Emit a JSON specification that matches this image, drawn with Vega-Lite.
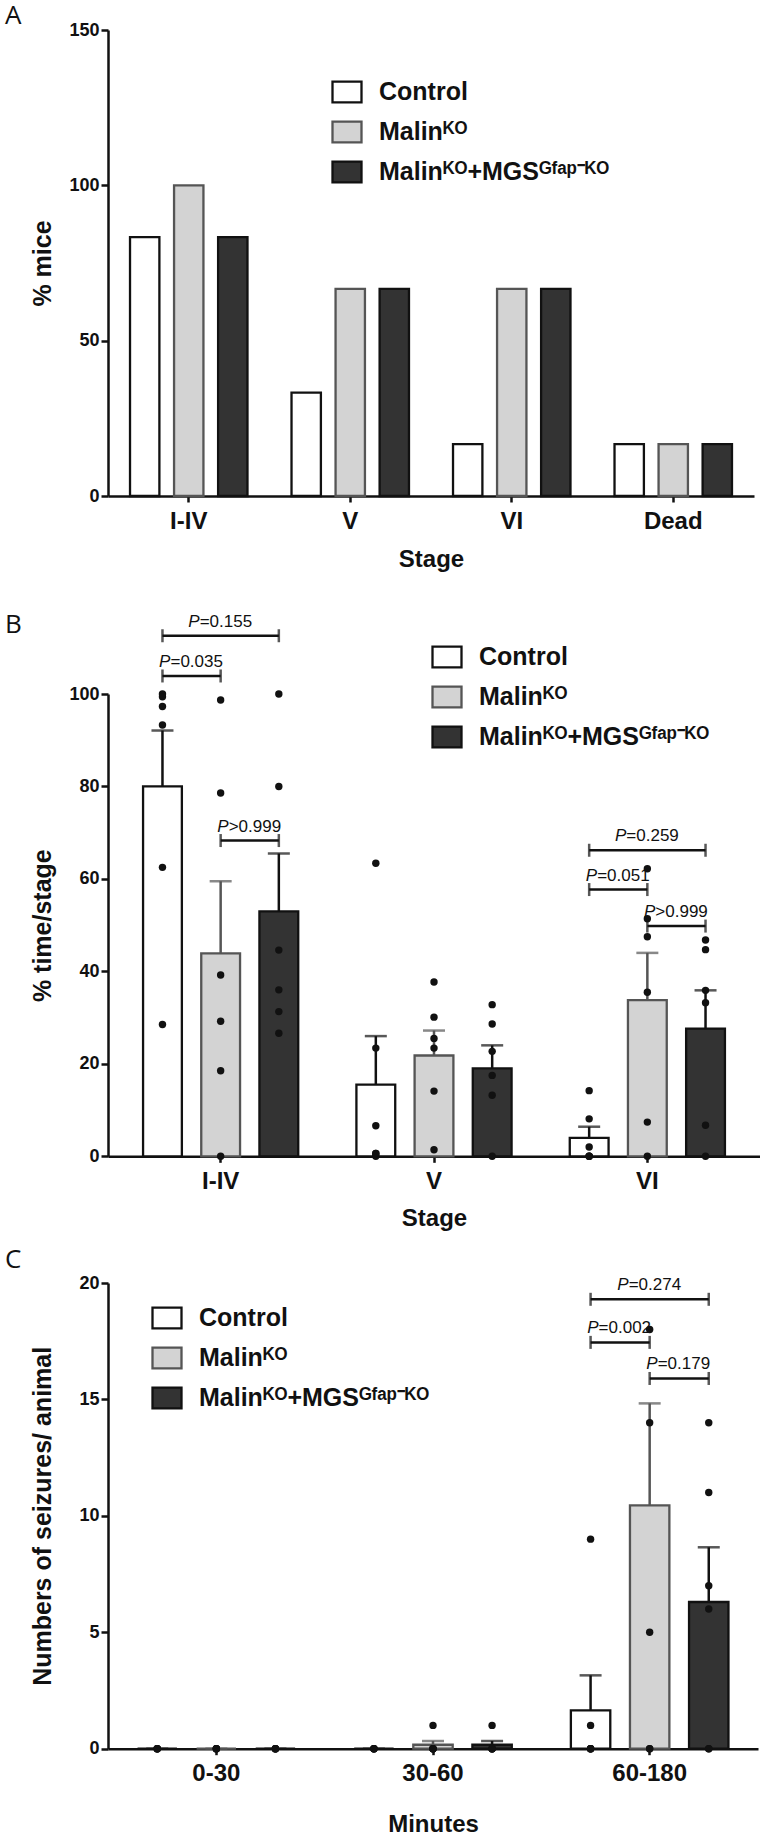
{
  "$schema": "https://vega.github.io/schema/vega-lite/v6.json",
  "background": "white",
  "padding": {"left": 5, "top": 3, "right": 0, "bottom": 0},
  "datasets": {
    "barsA": [
      {"stage": "I-IV", "group": "Control", "pct": 83.3},
      {"stage": "I-IV", "group": "Malinᴷᴼ", "pct": 100},
      {"stage": "I-IV", "group": "Malinᴷᴼ+MGSᴳᶠᵃᵖ⁻ᴷᴼ", "pct": 83.3},
      {"stage": "V", "group": "Control", "pct": 33.3},
      {"stage": "V", "group": "Malinᴷᴼ", "pct": 66.7},
      {"stage": "V", "group": "Malinᴷᴼ+MGSᴳᶠᵃᵖ⁻ᴷᴼ", "pct": 66.7},
      {"stage": "VI", "group": "Control", "pct": 16.7},
      {"stage": "VI", "group": "Malinᴷᴼ", "pct": 66.7},
      {"stage": "VI", "group": "Malinᴷᴼ+MGSᴳᶠᵃᵖ⁻ᴷᴼ", "pct": 66.7},
      {"stage": "Dead", "group": "Control", "pct": 16.7},
      {"stage": "Dead", "group": "Malinᴷᴼ", "pct": 16.7},
      {"stage": "Dead", "group": "Malinᴷᴼ+MGSᴳᶠᵃᵖ⁻ᴷᴼ", "pct": 16.7}
    ],
    "barsB": [
      {"stage": "I-IV", "group": "Control", "mean": 80.0, "upper": 92.1},
      {"stage": "I-IV", "group": "Malinᴷᴼ", "mean": 43.9, "upper": 59.5},
      {"stage": "I-IV", "group": "Malinᴷᴼ+MGSᴳᶠᵃᵖ⁻ᴷᴼ", "mean": 53.0, "upper": 65.5},
      {"stage": "V", "group": "Control", "mean": 15.5, "upper": 26.0},
      {"stage": "V", "group": "Malinᴷᴼ", "mean": 21.8, "upper": 27.2},
      {"stage": "V", "group": "Malinᴷᴼ+MGSᴳᶠᵃᵖ⁻ᴷᴼ", "mean": 19.0, "upper": 24.0},
      {"stage": "VI", "group": "Control", "mean": 4.0, "upper": 6.4},
      {"stage": "VI", "group": "Malinᴷᴼ", "mean": 33.8, "upper": 44.0},
      {"stage": "VI", "group": "Malinᴷᴼ+MGSᴳᶠᵃᵖ⁻ᴷᴼ", "mean": 27.6, "upper": 35.9}
    ],
    "dotsB": [
      {"stage": "I-IV", "group": "Control", "value": 100},
      {"stage": "I-IV", "group": "Control", "value": 99.4},
      {"stage": "I-IV", "group": "Control", "value": 97.3},
      {"stage": "I-IV", "group": "Control", "value": 93.3},
      {"stage": "I-IV", "group": "Control", "value": 62.5},
      {"stage": "I-IV", "group": "Control", "value": 28.5},
      {"stage": "I-IV", "group": "Malinᴷᴼ", "value": 98.7},
      {"stage": "I-IV", "group": "Malinᴷᴼ", "value": 78.6},
      {"stage": "I-IV", "group": "Malinᴷᴼ", "value": 39.2},
      {"stage": "I-IV", "group": "Malinᴷᴼ", "value": 29.2},
      {"stage": "I-IV", "group": "Malinᴷᴼ", "value": 18.5},
      {"stage": "I-IV", "group": "Malinᴷᴼ", "value": 0},
      {"stage": "I-IV", "group": "Malinᴷᴼ+MGSᴳᶠᵃᵖ⁻ᴷᴼ", "value": 100},
      {"stage": "I-IV", "group": "Malinᴷᴼ+MGSᴳᶠᵃᵖ⁻ᴷᴼ", "value": 80},
      {"stage": "I-IV", "group": "Malinᴷᴼ+MGSᴳᶠᵃᵖ⁻ᴷᴼ", "value": 44.6},
      {"stage": "I-IV", "group": "Malinᴷᴼ+MGSᴳᶠᵃᵖ⁻ᴷᴼ", "value": 36.0},
      {"stage": "I-IV", "group": "Malinᴷᴼ+MGSᴳᶠᵃᵖ⁻ᴷᴼ", "value": 31.3},
      {"stage": "I-IV", "group": "Malinᴷᴼ+MGSᴳᶠᵃᵖ⁻ᴷᴼ", "value": 26.6},
      {"stage": "V", "group": "Control", "value": 63.4},
      {"stage": "V", "group": "Control", "value": 23.4},
      {"stage": "V", "group": "Control", "value": 6.6},
      {"stage": "V", "group": "Control", "value": 0.6},
      {"stage": "V", "group": "Control", "value": 0},
      {"stage": "V", "group": "Control", "value": 0.6},
      {"stage": "V", "group": "Malinᴷᴼ", "value": 37.7},
      {"stage": "V", "group": "Malinᴷᴼ", "value": 30.1},
      {"stage": "V", "group": "Malinᴷᴼ", "value": 25.5},
      {"stage": "V", "group": "Malinᴷᴼ", "value": 23.4},
      {"stage": "V", "group": "Malinᴷᴼ", "value": 14.1},
      {"stage": "V", "group": "Malinᴷᴼ", "value": 1.4},
      {"stage": "V", "group": "Malinᴷᴼ+MGSᴳᶠᵃᵖ⁻ᴷᴼ", "value": 32.8},
      {"stage": "V", "group": "Malinᴷᴼ+MGSᴳᶠᵃᵖ⁻ᴷᴼ", "value": 28.6},
      {"stage": "V", "group": "Malinᴷᴼ+MGSᴳᶠᵃᵖ⁻ᴷᴼ", "value": 22.7},
      {"stage": "V", "group": "Malinᴷᴼ+MGSᴳᶠᵃᵖ⁻ᴷᴼ", "value": 17.5},
      {"stage": "V", "group": "Malinᴷᴼ+MGSᴳᶠᵃᵖ⁻ᴷᴼ", "value": 13.2},
      {"stage": "V", "group": "Malinᴷᴼ+MGSᴳᶠᵃᵖ⁻ᴷᴼ", "value": 0},
      {"stage": "VI", "group": "Control", "value": 14.2},
      {"stage": "VI", "group": "Control", "value": 8.1},
      {"stage": "VI", "group": "Control", "value": 2.0},
      {"stage": "VI", "group": "Control", "value": 0},
      {"stage": "VI", "group": "Control", "value": 0},
      {"stage": "VI", "group": "Control", "value": 0},
      {"stage": "VI", "group": "Malinᴷᴼ", "value": 62.2},
      {"stage": "VI", "group": "Malinᴷᴼ", "value": 51.4},
      {"stage": "VI", "group": "Malinᴷᴼ", "value": 47.5},
      {"stage": "VI", "group": "Malinᴷᴼ", "value": 35.5},
      {"stage": "VI", "group": "Malinᴷᴼ", "value": 7.4},
      {"stage": "VI", "group": "Malinᴷᴼ", "value": 0},
      {"stage": "VI", "group": "Malinᴷᴼ+MGSᴳᶠᵃᵖ⁻ᴷᴼ", "value": 46.8},
      {"stage": "VI", "group": "Malinᴷᴼ+MGSᴳᶠᵃᵖ⁻ᴷᴼ", "value": 44.7},
      {"stage": "VI", "group": "Malinᴷᴼ+MGSᴳᶠᵃᵖ⁻ᴷᴼ", "value": 35.9},
      {"stage": "VI", "group": "Malinᴷᴼ+MGSᴳᶠᵃᵖ⁻ᴷᴼ", "value": 33.2},
      {"stage": "VI", "group": "Malinᴷᴼ+MGSᴳᶠᵃᵖ⁻ᴷᴼ", "value": 6.7},
      {"stage": "VI", "group": "Malinᴷᴼ+MGSᴳᶠᵃᵖ⁻ᴷᴼ", "value": 0}
    ],
    "brkB": [
      {"pair": "b1", "stage": "I-IV", "group": "Control", "y": 112.6},
      {"pair": "b1", "stage": "I-IV", "group": "Malinᴷᴼ+MGSᴳᶠᵃᵖ⁻ᴷᴼ", "y": 112.6},
      {"pair": "b2", "stage": "I-IV", "group": "Control", "y": 103.9},
      {"pair": "b2", "stage": "I-IV", "group": "Malinᴷᴼ", "y": 103.9},
      {"pair": "b3", "stage": "I-IV", "group": "Malinᴷᴼ", "y": 68.3},
      {"pair": "b3", "stage": "I-IV", "group": "Malinᴷᴼ+MGSᴳᶠᵃᵖ⁻ᴷᴼ", "y": 68.3},
      {"pair": "b4", "stage": "VI", "group": "Control", "y": 66.2},
      {"pair": "b4", "stage": "VI", "group": "Malinᴷᴼ+MGSᴳᶠᵃᵖ⁻ᴷᴼ", "y": 66.2},
      {"pair": "b5", "stage": "VI", "group": "Control", "y": 57.7},
      {"pair": "b5", "stage": "VI", "group": "Malinᴷᴼ", "y": 57.7},
      {"pair": "b6", "stage": "VI", "group": "Malinᴷᴼ", "y": 49.8},
      {"pair": "b6", "stage": "VI", "group": "Malinᴷᴼ+MGSᴳᶠᵃᵖ⁻ᴷᴼ", "y": 49.8}
    ],
    "labB": [
      {"stage": "I-IV", "group": "Malinᴷᴼ", "span": "wide", "y": 112.6, "rest": "=0.155"},
      {"stage": "I-IV", "group": "Control", "span": "adjacent", "y": 103.9, "rest": "=0.035"},
      {"stage": "I-IV", "group": "Malinᴷᴼ", "span": "adjacent", "y": 68.3, "rest": ">0.999"},
      {"stage": "VI", "group": "Malinᴷᴼ", "span": "wide", "y": 66.2, "rest": "=0.259"},
      {"stage": "VI", "group": "Control", "span": "adjacent", "y": 57.7, "rest": "=0.051"},
      {"stage": "VI", "group": "Malinᴷᴼ", "span": "adjacent", "y": 49.8, "rest": ">0.999"}
    ],
    "barsC": [
      {"min": "0-30", "group": "Control", "mean": 0, "upper": 0},
      {"min": "0-30", "group": "Malinᴷᴼ", "mean": 0, "upper": 0},
      {"min": "0-30", "group": "Malinᴷᴼ+MGSᴳᶠᵃᵖ⁻ᴷᴼ", "mean": 0, "upper": 0},
      {"min": "30-60", "group": "Control", "mean": 0, "upper": 0},
      {"min": "30-60", "group": "Malinᴷᴼ", "mean": 0.17, "upper": 0.33},
      {"min": "30-60", "group": "Malinᴷᴼ+MGSᴳᶠᵃᵖ⁻ᴷᴼ", "mean": 0.17, "upper": 0.33},
      {"min": "60-180", "group": "Control", "mean": 1.65, "upper": 3.15},
      {"min": "60-180", "group": "Malinᴷᴼ", "mean": 10.45, "upper": 14.83},
      {"min": "60-180", "group": "Malinᴷᴼ+MGSᴳᶠᵃᵖ⁻ᴷᴼ", "mean": 6.3, "upper": 8.65}
    ],
    "dotsC": [
      {"min": "0-30", "group": "Control", "value": 0},
      {"min": "0-30", "group": "Control", "value": 0},
      {"min": "0-30", "group": "Control", "value": 0},
      {"min": "0-30", "group": "Control", "value": 0},
      {"min": "0-30", "group": "Malinᴷᴼ", "value": 0},
      {"min": "0-30", "group": "Malinᴷᴼ", "value": 0},
      {"min": "0-30", "group": "Malinᴷᴼ", "value": 0},
      {"min": "0-30", "group": "Malinᴷᴼ", "value": 0},
      {"min": "0-30", "group": "Malinᴷᴼ+MGSᴳᶠᵃᵖ⁻ᴷᴼ", "value": 0},
      {"min": "0-30", "group": "Malinᴷᴼ+MGSᴳᶠᵃᵖ⁻ᴷᴼ", "value": 0},
      {"min": "0-30", "group": "Malinᴷᴼ+MGSᴳᶠᵃᵖ⁻ᴷᴼ", "value": 0},
      {"min": "0-30", "group": "Malinᴷᴼ+MGSᴳᶠᵃᵖ⁻ᴷᴼ", "value": 0},
      {"min": "30-60", "group": "Control", "value": 0},
      {"min": "30-60", "group": "Control", "value": 0},
      {"min": "30-60", "group": "Control", "value": 0},
      {"min": "30-60", "group": "Control", "value": 0},
      {"min": "30-60", "group": "Malinᴷᴼ", "value": 1},
      {"min": "30-60", "group": "Malinᴷᴼ", "value": 0},
      {"min": "30-60", "group": "Malinᴷᴼ", "value": 0},
      {"min": "30-60", "group": "Malinᴷᴼ", "value": 0},
      {"min": "30-60", "group": "Malinᴷᴼ", "value": 0},
      {"min": "30-60", "group": "Malinᴷᴼ+MGSᴳᶠᵃᵖ⁻ᴷᴼ", "value": 1},
      {"min": "30-60", "group": "Malinᴷᴼ+MGSᴳᶠᵃᵖ⁻ᴷᴼ", "value": 0},
      {"min": "30-60", "group": "Malinᴷᴼ+MGSᴳᶠᵃᵖ⁻ᴷᴼ", "value": 0},
      {"min": "30-60", "group": "Malinᴷᴼ+MGSᴳᶠᵃᵖ⁻ᴷᴼ", "value": 0},
      {"min": "30-60", "group": "Malinᴷᴼ+MGSᴳᶠᵃᵖ⁻ᴷᴼ", "value": 0},
      {"min": "60-180", "group": "Control", "value": 9},
      {"min": "60-180", "group": "Control", "value": 1},
      {"min": "60-180", "group": "Control", "value": 0},
      {"min": "60-180", "group": "Control", "value": 0},
      {"min": "60-180", "group": "Control", "value": 0},
      {"min": "60-180", "group": "Control", "value": 0},
      {"min": "60-180", "group": "Malinᴷᴼ", "value": 18},
      {"min": "60-180", "group": "Malinᴷᴼ", "value": 14},
      {"min": "60-180", "group": "Malinᴷᴼ", "value": 5},
      {"min": "60-180", "group": "Malinᴷᴼ", "value": 0},
      {"min": "60-180", "group": "Malinᴷᴼ", "value": 0},
      {"min": "60-180", "group": "Malinᴷᴼ+MGSᴳᶠᵃᵖ⁻ᴷᴼ", "value": 14},
      {"min": "60-180", "group": "Malinᴷᴼ+MGSᴳᶠᵃᵖ⁻ᴷᴼ", "value": 11},
      {"min": "60-180", "group": "Malinᴷᴼ+MGSᴳᶠᵃᵖ⁻ᴷᴼ", "value": 7},
      {"min": "60-180", "group": "Malinᴷᴼ+MGSᴳᶠᵃᵖ⁻ᴷᴼ", "value": 6},
      {"min": "60-180", "group": "Malinᴷᴼ+MGSᴳᶠᵃᵖ⁻ᴷᴼ", "value": 0},
      {"min": "60-180", "group": "Malinᴷᴼ+MGSᴳᶠᵃᵖ⁻ᴷᴼ", "value": 0}
    ],
    "brkC": [
      {"pair": "c1", "min": "60-180", "group": "Control", "y": 19.3},
      {"pair": "c1", "min": "60-180", "group": "Malinᴷᴼ+MGSᴳᶠᵃᵖ⁻ᴷᴼ", "y": 19.3},
      {"pair": "c2", "min": "60-180", "group": "Control", "y": 17.45},
      {"pair": "c2", "min": "60-180", "group": "Malinᴷᴼ", "y": 17.45},
      {"pair": "c3", "min": "60-180", "group": "Malinᴷᴼ", "y": 15.9},
      {"pair": "c3", "min": "60-180", "group": "Malinᴷᴼ+MGSᴳᶠᵃᵖ⁻ᴷᴼ", "y": 15.9}
    ],
    "labC": [
      {"min": "60-180", "group": "Malinᴷᴼ", "span": "wide", "y": 19.3, "rest": "=0.274"},
      {"min": "60-180", "group": "Control", "span": "adjacent", "y": 17.45, "rest": "=0.002"},
      {"min": "60-180", "group": "Malinᴷᴼ", "span": "adjacent", "y": 15.9, "rest": "=0.179"}
    ]
  },
  "spacing": 40,
  "resolve": {
    "scale": {"x": "independent", "y": "independent", "xOffset": "independent", "fill": "independent", "stroke": "independent", "color": "independent"},
    "legend": {"fill": "independent", "stroke": "independent"}
  },
  "vconcat": [
    {
      "title": {"text": "A", "dx": -103, "offset": -8},
      "width": 646,
      "height": 466,
      "data": {"name": "barsA"},
      "mark": {"type": "bar", "strokeWidth": 2.3},
      "encoding": {
        "x": {"field": "stage", "type": "nominal", "scale": {"domain": ["I-IV", "V", "VI", "Dead"], "paddingInner": 0, "paddingOuter": 0}, "axis": {"title": "Stage", "titleY": 51}},
        "xOffset": {"field": "group", "type": "nominal", "scale": {"domain": ["Control", "Malinᴷᴼ", "Malinᴷᴼ+MGSᴳᶠᵃᵖ⁻ᴷᴼ"], "paddingInner": 0.333, "paddingOuter": 0.5}},
        "y": {"field": "pct", "type": "quantitative", "scale": {"domain": [0, 150], "nice": false}, "axis": {"title": "% mice", "values": [0, 50, 100, 150]}},
        "fill": {"field": "group", "type": "nominal", "scale": {"domain": ["Control", "Malinᴷᴼ", "Malinᴷᴼ+MGSᴳᶠᵃᵖ⁻ᴷᴼ"], "range": ["#ffffff", "#d3d3d3", "#333333"]}, "legend": {"title": null, "legendX": 223, "legendY": 46}},
        "stroke": {"field": "group", "type": "nominal", "scale": {"domain": ["Control", "Malinᴷᴼ", "Malinᴷᴼ+MGSᴳᶠᵃᵖ⁻ᴷᴼ"], "range": ["#111111", "#555555", "#111111"]}, "legend": {"title": null, "legendX": 223, "legendY": 46}}
      }
    },
    {
      "spacing": 16,
      "resolve": {
        "scale": {"x": "independent", "y": "independent", "xOffset": "independent", "fill": "independent", "stroke": "independent", "color": "independent"},
        "legend": {"fill": "independent", "stroke": "independent"}
      },
      "vconcat": [
        {
          "title": {"text": "B", "dx": -103, "offset": -25},
          "width": 652,
          "height": 462.3,
          "encoding": {
            "x": {"field": "stage", "type": "nominal", "scale": {"domain": ["I-IV", "V", "VI"], "paddingInner": 0, "paddingOuter": 0.028}, "axis": {"title": "Stage", "titleY": 50}},
            "xOffset": {"field": "group", "type": "nominal", "scale": {"domain": ["Control", "Malinᴷᴼ", "Malinᴷᴼ+MGSᴳᶠᵃᵖ⁻ᴷᴼ"], "paddingInner": 0.333, "paddingOuter": 0.5}}
          },
          "layer": [
            {
              "data": {"name": "barsB"},
              "mark": {"type": "bar", "strokeWidth": 2.3},
              "encoding": {
                "y": {"field": "mean", "type": "quantitative", "scale": {"domain": [0, 100], "nice": false}, "axis": {"title": "% time/stage", "values": [0, 20, 40, 60, 80, 100]}},
                "fill": {"field": "group", "type": "nominal", "scale": {"domain": ["Control", "Malinᴷᴼ", "Malinᴷᴼ+MGSᴳᶠᵃᵖ⁻ᴷᴼ"], "range": ["#ffffff", "#d3d3d3", "#333333"]}, "legend": {"title": null, "legendX": 323, "legendY": -53}},
                "stroke": {"field": "group", "type": "nominal", "scale": {"domain": ["Control", "Malinᴷᴼ", "Malinᴷᴼ+MGSᴳᶠᵃᵖ⁻ᴷᴼ"], "range": ["#111111", "#555555", "#111111"]}, "legend": {"title": null, "legendX": 323, "legendY": -53}}
              }
            },
            {
              "data": {"name": "barsB"},
              "mark": {"type": "rule", "strokeWidth": 2.5},
              "encoding": {
                "y": {"field": "mean", "type": "quantitative"},
                "y2": {"field": "upper"},
                "color": {"field": "group", "type": "nominal", "scale": {"domain": ["Control", "Malinᴷᴼ", "Malinᴷᴼ+MGSᴳᶠᵃᵖ⁻ᴷᴼ"], "range": ["#111111", "#555555", "#111111"]}, "legend": null}
              }
            },
            {
              "data": {"name": "barsB"},
              "mark": {"type": "tick", "size": 22, "thickness": 2.5},
              "encoding": {
                "y": {"field": "upper", "type": "quantitative"},
                "color": {"field": "group", "type": "nominal", "scale": {"domain": ["Control", "Malinᴷᴼ", "Malinᴷᴼ+MGSᴳᶠᵃᵖ⁻ᴷᴼ"], "range": ["#111111", "#555555", "#111111"]}, "legend": null}
              }
            },
            {
              "data": {"name": "dotsB"},
              "mark": {"type": "point", "filled": true, "size": 55, "color": "#111111", "opacity": 1},
              "encoding": {"y": {"field": "value", "type": "quantitative"}}
            },
            {
              "data": {"name": "brkB"},
              "mark": {"type": "line", "strokeWidth": 2.5, "color": "#111111"},
              "encoding": {"y": {"field": "y", "type": "quantitative"}, "detail": {"field": "pair"}}
            },
            {
              "data": {"name": "brkB"},
              "mark": {"type": "tick", "orient": "vertical", "size": 13, "thickness": 2.5, "color": "#111111"},
              "encoding": {"y": {"field": "y", "type": "quantitative"}}
            },
            {
              "data": {"name": "labB"},
              "transform": [{"filter": "datum.span == 'wide'"}],
              "mark": {"type": "text", "text": "P", "fontStyle": "italic", "align": "right", "baseline": "alphabetic", "dx": -21, "dy": -9, "fontSize": 17, "color": "#111111"},
              "encoding": {"y": {"field": "y", "type": "quantitative"}}
            },
            {
              "data": {"name": "labB"},
              "transform": [{"filter": "datum.span == 'wide'"}],
              "mark": {"type": "text", "align": "left", "baseline": "alphabetic", "dx": -21, "dy": -9, "fontSize": 17, "color": "#111111"},
              "encoding": {"y": {"field": "y", "type": "quantitative"}, "text": {"field": "rest"}}
            },
            {
              "data": {"name": "labB"},
              "transform": [{"filter": "datum.span == 'adjacent'"}],
              "mark": {"type": "text", "text": "P", "fontStyle": "italic", "align": "right", "baseline": "alphabetic", "dx": 8, "dy": -9, "fontSize": 17, "color": "#111111"},
              "encoding": {"y": {"field": "y", "type": "quantitative"}}
            },
            {
              "data": {"name": "labB"},
              "transform": [{"filter": "datum.span == 'adjacent'"}],
              "mark": {"type": "text", "align": "left", "baseline": "alphabetic", "dx": 8, "dy": -9, "fontSize": 17, "color": "#111111"},
              "encoding": {"y": {"field": "y", "type": "quantitative"}, "text": {"field": "rest"}}
            }
          ]
        },
        {
          "title": {"text": "C", "dx": -103, "offset": 1},
          "width": 650,
          "height": 465.7,
          "encoding": {
            "x": {"field": "min", "type": "nominal", "scale": {"domain": ["0-30", "30-60", "60-180"], "paddingInner": 0, "paddingOuter": 0}, "axis": {"title": "Minutes", "titleY": 64}},
            "xOffset": {"field": "group", "type": "nominal", "scale": {"domain": ["Control", "Malinᴷᴼ", "Malinᴷᴼ+MGSᴳᶠᵃᵖ⁻ᴷᴼ"], "paddingInner": 0.333, "paddingOuter": 0.5}}
          },
          "layer": [
            {
              "data": {"name": "barsC"},
              "mark": {"type": "bar", "strokeWidth": 2.3},
              "encoding": {
                "y": {"field": "mean", "type": "quantitative", "scale": {"domain": [0, 20], "nice": false}, "axis": {"title": "Numbers of seizures/ animal", "values": [0, 5, 10, 15, 20]}},
                "fill": {"field": "group", "type": "nominal", "scale": {"domain": ["Control", "Malinᴷᴼ", "Malinᴷᴼ+MGSᴳᶠᵃᵖ⁻ᴷᴼ"], "range": ["#ffffff", "#d3d3d3", "#333333"]}, "legend": {"title": null, "legendX": 43, "legendY": 19}},
                "stroke": {"field": "group", "type": "nominal", "scale": {"domain": ["Control", "Malinᴷᴼ", "Malinᴷᴼ+MGSᴳᶠᵃᵖ⁻ᴷᴼ"], "range": ["#111111", "#555555", "#111111"]}, "legend": {"title": null, "legendX": 43, "legendY": 19}}
              }
            },
            {
              "data": {"name": "barsC"},
              "mark": {"type": "rule", "strokeWidth": 2.5},
              "encoding": {
                "y": {"field": "mean", "type": "quantitative"},
                "y2": {"field": "upper"},
                "color": {"field": "group", "type": "nominal", "scale": {"domain": ["Control", "Malinᴷᴼ", "Malinᴷᴼ+MGSᴳᶠᵃᵖ⁻ᴷᴼ"], "range": ["#111111", "#555555", "#111111"]}, "legend": null}
              }
            },
            {
              "data": {"name": "barsC"},
              "mark": {"type": "tick", "size": 22, "thickness": 2.5},
              "encoding": {
                "y": {"field": "upper", "type": "quantitative"},
                "color": {"field": "group", "type": "nominal", "scale": {"domain": ["Control", "Malinᴷᴼ", "Malinᴷᴼ+MGSᴳᶠᵃᵖ⁻ᴷᴼ"], "range": ["#111111", "#555555", "#111111"]}, "legend": null}
              }
            },
            {
              "data": {"name": "dotsC"},
              "mark": {"type": "point", "filled": true, "size": 55, "color": "#111111", "opacity": 1},
              "encoding": {"y": {"field": "value", "type": "quantitative"}}
            },
            {
              "data": {"name": "brkC"},
              "mark": {"type": "line", "strokeWidth": 2.5, "color": "#111111"},
              "encoding": {"y": {"field": "y", "type": "quantitative"}, "detail": {"field": "pair"}}
            },
            {
              "data": {"name": "brkC"},
              "mark": {"type": "tick", "orient": "vertical", "size": 13, "thickness": 2.5, "color": "#111111"},
              "encoding": {"y": {"field": "y", "type": "quantitative"}}
            },
            {
              "data": {"name": "labC"},
              "transform": [{"filter": "datum.span == 'wide'"}],
              "mark": {"type": "text", "text": "P", "fontStyle": "italic", "align": "right", "baseline": "alphabetic", "dx": -21, "dy": -9, "fontSize": 17, "color": "#111111"},
              "encoding": {"y": {"field": "y", "type": "quantitative"}}
            },
            {
              "data": {"name": "labC"},
              "transform": [{"filter": "datum.span == 'wide'"}],
              "mark": {"type": "text", "align": "left", "baseline": "alphabetic", "dx": -21, "dy": -9, "fontSize": 17, "color": "#111111"},
              "encoding": {"y": {"field": "y", "type": "quantitative"}, "text": {"field": "rest"}}
            },
            {
              "data": {"name": "labC"},
              "transform": [{"filter": "datum.span == 'adjacent'"}],
              "mark": {"type": "text", "text": "P", "fontStyle": "italic", "align": "right", "baseline": "alphabetic", "dx": 8, "dy": -9, "fontSize": 17, "color": "#111111"},
              "encoding": {"y": {"field": "y", "type": "quantitative"}}
            },
            {
              "data": {"name": "labC"},
              "transform": [{"filter": "datum.span == 'adjacent'"}],
              "mark": {"type": "text", "align": "left", "baseline": "alphabetic", "dx": 8, "dy": -9, "fontSize": 17, "color": "#111111"},
              "encoding": {"y": {"field": "y", "type": "quantitative"}, "text": {"field": "rest"}}
            }
          ]
        }
      ]
    }
  ],
  "config": {
    "font": "Liberation Sans",
    "view": {"stroke": null},
    "axis": {"domainColor": "#111111", "domainWidth": 2.5, "tickColor": "#111111", "tickWidth": 2.5, "labelColor": "#111111", "titleColor": "#111111", "labelFont": "Liberation Sans", "titleFont": "Liberation Sans", "labelFontWeight": "bold", "titleFontWeight": "bold", "grid": false},
    "axisX": {"tickSize": 6, "labelFontSize": 24, "labelPadding": 7, "titleFontSize": 24, "labelAngle": 0, "titleBaseline": "top"},
    "axisY": {"tickSize": 7, "labelFontSize": 18, "labelPadding": 2, "titleFontSize": 25, "titleBaseline": "middle", "titleX": -66},
    "legend": {"orient": "none", "padding": 0, "symbolType": "M-1,-0.72H1V0.72H-1Z", "symbolSize": 841, "symbolStrokeWidth": 2.3, "symbolOpacity": 1, "labelFont": "Liberation Sans", "labelFontWeight": "bold", "labelFontSize": 25, "labelColor": "#111111", "labelOffset": 16, "rowPadding": 8, "labelLimit": 600},
    "title": {"font": "Open Sans", "fontWeight": "normal", "fontSize": 26, "color": "#111111", "anchor": "start", "frame": "group"}
  }
}
